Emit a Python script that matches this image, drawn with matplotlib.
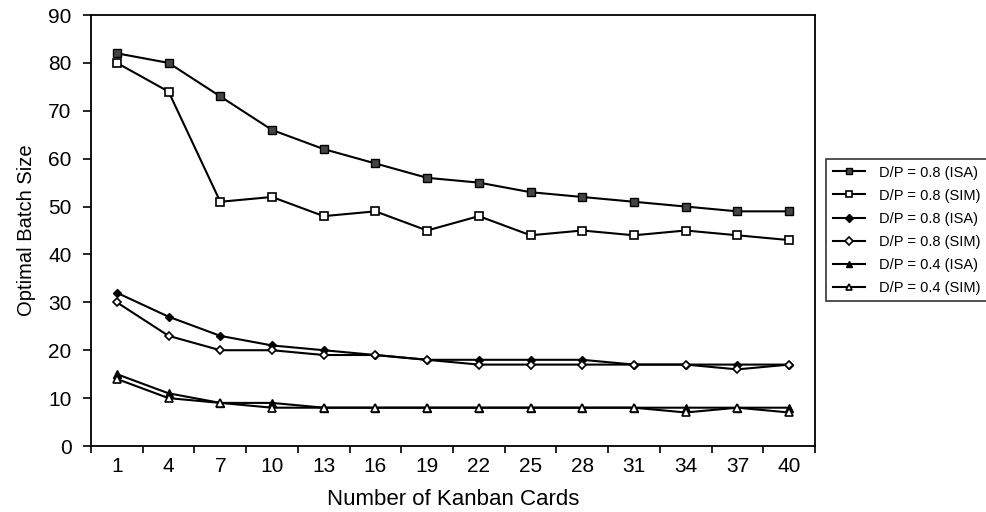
import numpy as np
import matplotlib
matplotlib.use("Agg")
from matplotlib import pyplot as plt

plt.rcParams['font.family'] = ['Liberation Sans', 'DejaVu Sans']

cards = [1, 4, 7, 10, 13, 16, 19, 22, 25, 28, 31, 34, 37, 40]

isa_08_a = [82, 80, 73, 66, 62, 59, 56, 55, 53, 52, 51, 50, 49, 49]
sim_08_a = [80, 74, 51, 52, 48, 49, 45, 48, 44, 45, 44, 45, 44, 43]
isa_08_b = [32, 27, 23, 21, 20, 19, 18, 18, 18, 18, 17, 17, 17, 17]
sim_08_b = [30, 23, 20, 20, 19, 19, 18, 17, 17, 17, 17, 17, 16, 17]
isa_04 = [15, 11, 9, 9, 8, 8, 8, 8, 8, 8, 8, 8, 8, 8]
sim_04 = [14, 10, 9, 8, 8, 8, 8, 8, 8, 8, 8, 7, 8, 7]

labels = ['D/P = 0.8 (ISA)', 'D/P = 0.8 (SIM)', 'D/P = 0.8 (ISA)',
          'D/P = 0.8 (SIM)', 'D/P = 0.4 (ISA)', 'D/P = 0.4 (SIM)']

fig = plt.figure(figsize=(9.87, 5.12), dpi=100)
ax = fig.add_axes([0.0922, 0.1289, 0.7335, 0.8418])

pos = np.arange(len(cards))
lw = 1.5
ax.plot(pos, isa_08_a, color='black', lw=lw, marker='s', ms=5.5,
        mfc='#444444', mec='black', label=labels[0])
ax.plot(pos, sim_08_a, color='black', lw=lw, marker='s', ms=6,
        mfc='white', mec='black', mew=1.2, label=labels[1])
ax.plot(pos, isa_08_b, color='black', lw=lw, marker='D', ms=4,
        mfc='black', mec='black', label=labels[2])
ax.plot(pos, sim_08_b, color='black', lw=lw, marker='D', ms=4,
        mfc='white', mec='black', mew=1.2, label=labels[3])
ax.plot(pos, isa_04, color='black', lw=lw, marker='^', ms=5.5,
        mfc='black', mec='black', label=labels[4])
ax.plot(pos, sim_04, color='black', lw=lw, marker='^', ms=5.5,
        mfc='white', mec='black', mew=1.2, label=labels[5])

ax.set_xlim(-0.5, len(cards) - 0.5)
ax.set_ylim(0, 90)

# category axis: tick marks between categories, labels at centres
ax.set_xticks(np.arange(-0.5, len(cards), 1))
ax.set_xticklabels([])
ax.set_xticks(pos, minor=True)
ax.set_xticklabels([str(c) for c in cards], minor=True, fontsize=15)
ax.tick_params(axis='x', which='major', direction='out', length=5, width=1.2)
ax.tick_params(axis='x', which='minor', length=0, pad=8)

ax.set_yticks(np.arange(0, 91, 10))
ax.tick_params(axis='y', direction='out', length=6, width=1.2,
               labelsize=15, pad=8)

for s in ax.spines.values():
    s.set_linewidth(1.3)

ax.set_xlabel('Number of Kanban Cards', fontsize=16, labelpad=9)
ax.set_ylabel('Optimal Batch Size', fontsize=14.5, labelpad=9)

leg = fig.legend(loc='upper left', bbox_to_anchor=(826 / 987, 1 - 159 / 512),
                 fontsize=10.5, frameon=True, fancybox=False, edgecolor='black',
                 handlelength=2.2, handletextpad=1.0, labelspacing=0.62,
                 borderpad=0.45, borderaxespad=0)
leg.get_frame().set_linewidth(1.2)
for h in leg.legend_handles:
    h.set_markersize(4.5)

fig.savefig('out.png', dpi=100)
